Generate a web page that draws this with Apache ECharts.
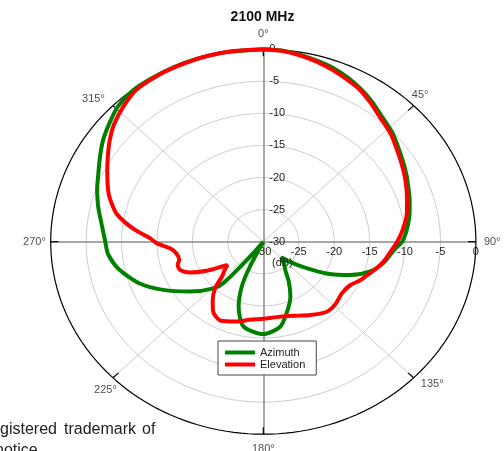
<!DOCTYPE html>
<html>
<head>
<meta charset="utf-8">
<script src="https://cdn.jsdelivr.net/npm/echarts/dist/echarts.min.js"></script>
<style>
html,body{margin:0;padding:0;background:#fff;overflow:hidden;}
#chart{width:504px;height:451px;}
</style>
</head>
<body>
<div id="chart"></div>
<script>
// ---- data (angle in degrees, clockwise from top; level in dB) ----
const titleText = '2100 MHz';
const seriesNames = ['Azimuth', 'Elevation'];

const azimuthAngles = [0, 5, 10, 15, 20, 25, 30, 35, 40, 47, 52, 58, 63, 68, 73, 78, 85, 90, 94, 101, 107, 113, 119, 125, 130, 134, 140, 145, 150, 156, 163.5, 170, 180, 192, 199, 203.5, 206, 209, 212, 216, 219, 221, 224, 233, 242, 249.5, 258, 265, 270, 277, 283, 289, 294.6, 300, 305, 310.4, 315.7, 322, 328, 335, 342, 350, 360];
const azimuthDb = [0, -0.1, -0.4, -0.8, -1.2, -1.8, -2.5, -3.3, -4.2, -5.1, -5.9, -6.7, -7.3, -7.9, -8.4, -8.9, -9.7, -10.4, -11.5, -12.7, -14.2, -16.7, -19.8, -23.1, -25.1, -26.5, -25.4, -24.6, -22.8, -20.6, -18.4, -16.5, -15.6, -16.5, -19.3, -22.4, -25.7, -30, -30, -30, -26.5, -21.6, -19.9, -17.1, -14.0, -11.4, -9.2, -8.0, -7.7, -7.0, -6.1, -5.2, -4.4, -3.4, -2.4, -1.5, -0.6, -0.1, -0.05, 0, 0, 0, 0];

const elevationAngles = [0, 5, 10, 15, 20, 25, 30, 35, 40, 47, 52, 58, 63, 68, 73, 78, 85, 90, 95, 100, 105, 110, 114, 119, 126, 134, 141, 150, 160, 171, 180, 189, 197, 206, 213, 218, 223, 227, 231, 234.5, 236.5, 240.5, 245, 249.5, 253.5, 256.5, 261.5, 265.5, 269, 272, 275.5, 278.5, 282, 287, 290, 296, 301, 306, 311, 317, 323, 331, 338, 345, 352, 360];
const elevationDb = [0, -0.15, -0.5, -0.95, -1.5, -2.1, -2.7, -3.6, -4.5, -5.4, -6.2, -7.0, -7.6, -8.2, -8.8, -9.3, -10.3, -11.1, -12.0, -12.7, -13.6, -14.5, -15.1, -16.0, -16.3, -15.9, -15.9, -16.8, -17.7, -18.1, -18.0, -17.7, -17.0, -16.3, -17.0, -18.4, -20.0, -22.0, -23.0, -23.8, -23.0, -20.8, -18.6, -17.45, -17.4, -17.8, -17.6, -16.8, -15.0, -14.0, -12.0, -10.4, -8.8, -7.4, -6.7, -5.5, -4.4, -3.2, -2.1, -1.1, -0.3, -0.1, -0.05, 0, 0, 0];

const dbMin = -30, dbMax = 0, dbStep = 5;
const ringLevels = [-25, -20, -15, -10, -5];
const spokeAngles = [45, 135, 225, 315];
const angleLabels = [0, 45, 90, 135, 180, 225, 270, 315];

// ---- helpers ----
const span = dbMax - dbMin;
function polarToXY(angle, r) {
  const t = angle * Math.PI / 180;
  return [r * Math.sin(t), r * Math.cos(t)];
}
function toXY(angle, db) {
  return polarToXY(angle, Math.max(0, Math.min(span, db - dbMin)));
}
function pattern(angles, dbs) { return angles.map((a, i) => toXY(a, dbs[i])); }
function ring(db) {
  const pts = [];
  for (let a = 0; a <= 360; a += 2) pts.push(toXY(a, db));
  return pts;
}
const FONT = 'Liberation Sans, Arial, Helvetica, sans-serif';
const TXT = '#222';
const labelNudge = { 45: [-5, 0], 135: [7, -4], 225: [4, 2], 315: [-8, 4] };

const gridBox = { left: 50.7, top: 49.2, width: 425.2, height: 385 };

const series = [];
// grid rings
ringLevels.forEach(l => series.push({
  type: 'line', data: ring(l), showSymbol: false, silent: true, clip: false, z: 1,
  lineStyle: { color: '#cdcdcd', width: 1 }, animation: false
}));
// diagonal spokes
spokeAngles.forEach(a => series.push({
  type: 'line', data: [toXY(a, dbMin), toXY(a, dbMax)], showSymbol: false, silent: true, clip: false, z: 1,
  lineStyle: { color: '#cdcdcd', width: 1 }, animation: false
}));
// outer ring
series.push({
  type: 'line', data: ring(dbMax), showSymbol: false, silent: true, clip: false, z: 3,
  lineStyle: { color: '#000', width: 1.2 }, animation: false
});
// ticks on outer ring
angleLabels.forEach(a => series.push({
  type: 'line', data: [toXY(a, dbMax - 1.1), toXY(a, dbMax)], showSymbol: false, silent: true, clip: false, z: 3,
  lineStyle: { color: '#000', width: 1.2 }, animation: false
}));
// angle labels
series.push({
  type: 'scatter', silent: true, clip: false, symbolSize: 0, z: 4, animation: false,
  data: angleLabels.map(a => ({
    value: polarToXY(a, span + 2.3), name: a + '°',
    label: { offset: labelNudge[a] || [0, 0] }
  })),
  label: { show: true, position: 'inside', formatter: p => p.name, color: TXT, fontSize: 11, fontFamily: FONT }
});
// patterns
series.push({
  name: seriesNames[0], type: 'line', data: pattern(azimuthAngles, azimuthDb),
  showSymbol: false, smooth: 0.25, clip: false, z: 5, animation: false,
  lineStyle: { color: '#008000', width: 4 }, itemStyle: { color: '#008000' }
});
series.push({
  name: seriesNames[1], type: 'line', data: pattern(elevationAngles, elevationDb),
  showSymbol: false, smooth: 0.25, clip: false, z: 6, animation: false,
  lineStyle: { color: '#ff0000', width: 4 }, itemStyle: { color: '#ff0000' }
});

const chart = echarts.init(document.getElementById('chart'), null, { renderer: 'canvas' });
chart.setOption({
  animation: false,
  backgroundColor: '#fff',
  title: {
    text: titleText, left: 262.5, top: 10, textAlign: 'center', padding: 0,
    textStyle: { fontSize: 14, fontWeight: 'bold', color: '#111', fontFamily: FONT }
  },
  grid: gridBox,
  xAxis: {
    type: 'value', min: -span, max: span, interval: dbStep,
    position: 'bottom', offset: -gridBox.height / 2,
    axisLine: { onZero: false, lineStyle: { color: '#8a8a8a', width: 1.5 } },
    axisTick: { show: false }, splitLine: { show: false },
    axisLabel: {
      margin: 5, color: TXT, fontSize: 11, fontFamily: FONT,
      formatter: v => (v >= 0 ? String(v + dbMin) : '')
    }, z: 2
  },
  yAxis: {
    type: 'value', min: -span, max: span, interval: dbStep,
    position: 'left', offset: -gridBox.width / 2,
    axisLine: { onZero: false, lineStyle: { color: '#8a8a8a', width: 1.5 } },
    axisTick: { show: false }, splitLine: { show: false },
    axisLabel: {
      inside: true, margin: 6, color: TXT, fontSize: 11, fontFamily: FONT,
      formatter: v => (v >= 0 ? String(v + dbMin) : '')
    }, z: 2
  },
  legend: {
    data: seriesNames, orient: 'vertical', left: 218, top: 341,
    padding: [6, 11, 5, 7], itemGap: 1, itemWidth: 30, itemHeight: 4, icon: 'rect',
    backgroundColor: '#fff', borderColor: '#444', borderWidth: 1, borderRadius: 0,
    textStyle: { color: TXT, fontSize: 11, fontFamily: FONT }, z: 10
  },
  graphic: [
    { type: 'text', left: 272, top: 257, z: 20, style: { text: '(dB)', fill: TXT, font: '11px ' + FONT } },
    { type: 'text', left: 0, top: 422, z: 20, style: { text: 'gistered', fill: TXT, font: '16px ' + FONT } },
    { type: 'text', left: 64, top: 422, z: 20, style: { text: 'trademark', fill: TXT, font: '16px ' + FONT } },
    { type: 'text', left: 142, top: 422, z: 20, style: { text: 'of', fill: TXT, font: '16px ' + FONT } },
    { type: 'text', left: -5, top: 443, z: 20, style: { text: 'notice', fill: TXT, font: '16px ' + FONT } }
  ],
  series: series
});
</script>
</body>
</html>
